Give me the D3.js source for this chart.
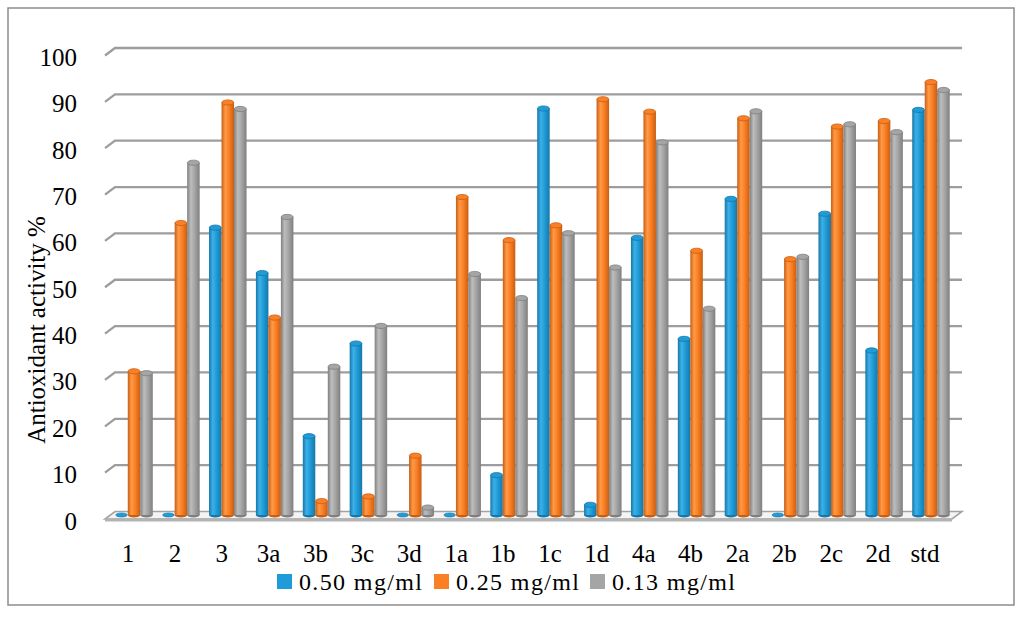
<!DOCTYPE html>
<html>
<head>
<meta charset="utf-8">
<script src="https://cdn.jsdelivr.net/npm/d3@7"></script>
<style>
  html, body { margin: 0; padding: 0; background: #fff; }
  svg { display: block; }
</style>
</head>
<body>
<svg id="chart" width="1024" height="623" font-family="'Liberation Serif', 'DejaVu Serif', 'Noto Serif', 'Times New Roman', serif"></svg>
<script>
const categories = ["1","2","3","3a","3b","3c","3d","1a","1b","1c","1d","4a","4b","2a","2b","2c","2d","std"];
const seriesNames = ["0.50 mg/ml", "0.25 mg/ml", "0.13 mg/ml"];
const s050 = [0, 0, 62, 52.2, 17, 37, 0, 0, 8.6, 87.7, 2.2, 59.8, 38, 68.2, 0, 65, 35.5, 87.4];
const s025 = [31, 63, 89, 42.6, 3, 4, 12.8, 68.6, 59.3, 62.5, 89.7, 87, 57, 85.6, 55.2, 83.8, 85, 93.4];
const s013 = [30.6, 76, 87.6, 64.3, 32, 40.8, 1.6, 52, 46.8, 60.8, 53.4, 80.4, 44.5, 87.1, 55.7, 84.3, 82.6, 91.7];
const yTicks = [0, 10, 20, 30, 40, 50, 60, 70, 80, 90, 100];
const colors = ["#1f9bd7", "#fb7f24", "#a5a5a5"];
const darks  = ["#1677a8", "#c85e12", "#7f7f7f"];
const lights = ["#3db0e8", "#ff9a48", "#bdbdbd"];

const series = [s050, s025, s013];
const svg = d3.select("#chart");
const FONT = "'Liberation Serif', 'DejaVu Serif', 'Noto Serif', serif";

// frame
svg.append("rect").attr("x", 8).attr("y", 8).attr("width", 1006).attr("height", 597)
  .attr("fill", "#fff").attr("stroke", "#8c8c8c").attr("stroke-width", 1.5);

// scales (back wall)
const y = d3.scaleLinear().domain([0, 100]).range([511.5, 48]);
const wallL = 115, wallR = 962, dx = -10, dy = 7.5;
const x = d3.scaleBand().domain(categories).range([105.9, 959.1]).padding(0.2);
const xs = d3.scaleBand().domain(d3.range(3)).range([0, x.bandwidth()]);

// gridlines
const grid = svg.append("g");
yTicks.filter(t => t > 0).forEach(t => {
  grid.append("path")
    .attr("d", `M${wallL + dx},${y(t) + dy}L${wallL},${y(t)}L${wallR},${y(t)}`)
    .attr("fill", "none").attr("stroke", "#9d9d9d").attr("stroke-width", 2.3);
});

// floor
grid.append("path")
  .attr("d", `M${wallL},${y(0)}L${wallR},${y(0)}L${wallR + dx},${y(0) + dy}L${wallL + dx},${y(0) + dy}Z`)
  .attr("fill", "#f4f4f4").attr("stroke", "#a3a3a3").attr("stroke-width", 1.6);
grid.append("line")
  .attr("x1", wallL + dx).attr("x2", wallR + dx)
  .attr("y1", y(0) + dy + 1).attr("y2", y(0) + dy + 1)
  .attr("stroke", "#b3b3b3").attr("stroke-width", 3);

// y tick labels
svg.append("g").selectAll("text").data(yTicks).join("text")
  .attr("x", 77).attr("y", d => y(d) + 18)
  .attr("text-anchor", "end").attr("font-size", 25).attr("font-family", FONT)
  .text(d => d);

// gradients
const defs = svg.append("defs");
colors.forEach((c, i) => {
  const g = defs.append("linearGradient").attr("id", "g" + i)
    .attr("x1", "0").attr("x2", "1").attr("y1", "0").attr("y2", "0");
  g.append("stop").attr("offset", "0%").attr("stop-color", darks[i]);
  g.append("stop").attr("offset", "30%").attr("stop-color", lights[i]);
  g.append("stop").attr("offset", "60%").attr("stop-color", c);
  g.append("stop").attr("offset", "100%").attr("stop-color", darks[i]);
});

// bars (cylinders, mid depth)
const bdy = 3.5, ry = 2.6;
const bars = svg.append("g");
categories.forEach((cat, ci) => {
  series.forEach((s, si) => {
    const v = s[ci];
    const w = xs.bandwidth();
    const cx = x(cat) + xs(si) + w / 2;
    const yb = y(0) + bdy, yt = y(v) + bdy;
    const g = bars.append("g");
    if (v <= 0.05) {
      g.append("ellipse").attr("cx", cx).attr("cy", yb).attr("rx", w / 2 - 0.5).attr("ry", ry - 0.6)
        .attr("fill", colors[si]).attr("stroke", darks[si]).attr("stroke-width", 0.6);
      return;
    }
    g.append("ellipse").attr("cx", cx).attr("cy", yb).attr("rx", w / 2).attr("ry", ry)
      .attr("fill", darks[si]);
    g.append("rect").attr("x", cx - w / 2).attr("y", yt).attr("width", w).attr("height", yb - yt)
      .attr("fill", `url(#g${si})`);
    g.append("ellipse").attr("cx", cx).attr("cy", yt).attr("rx", w / 2 - 0.3).attr("ry", ry)
      .attr("fill", colors[si]).attr("stroke", darks[si]).attr("stroke-width", 0.8);
  });
});

// category labels
svg.append("g").selectAll("text").data(categories).join("text")
  .attr("x", d => x(d) + x.bandwidth() / 2 - 6).attr("y", 562)
  .attr("text-anchor", "middle").attr("font-size", 25).attr("font-family", FONT)
  .text(d => d);

// y axis title
svg.append("text").attr("transform", "translate(45,330) rotate(-90)")
  .attr("text-anchor", "middle").attr("font-size", 25).attr("font-family", FONT)
  .text("Antioxidant activity %");

// legend
const legX = [277, 434, 590];
const leg = svg.append("g");
seriesNames.forEach((n, i) => {
  leg.append("rect").attr("x", legX[i]).attr("y", 574).attr("width", 15).attr("height", 15)
    .attr("fill", colors[i]);
  leg.append("text").attr("x", legX[i] + 22).attr("y", 590).attr("font-size", 24)
    .attr("font-family", FONT)
    .attr("textLength", 123).attr("lengthAdjust", "spacing")
    .text(n);
});
</script>
</body>
</html>
